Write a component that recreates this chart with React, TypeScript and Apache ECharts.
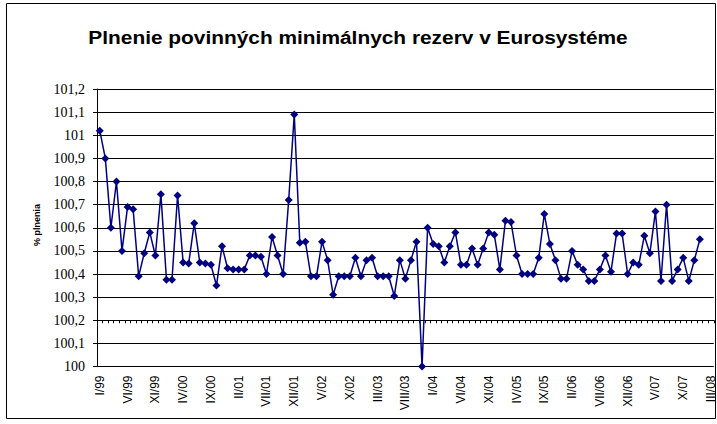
import React, { useEffect, useRef } from "react";
import * as echarts from "echarts";

const TITLE = "Plnenie povinných minimálnych rezerv v Eurosystéme";
const Y_NAME = "% plnenia";
const MONTHS = ["I", "II", "III", "IV", "V", "VI", "VII", "VIII", "IX", "X", "XI", "XII"];
const YEARS = ["99", "00", "01", "02", "03", "04", "05", "06", "07", "08"];
const LAST_LABEL = "III/08";

const categories: string[] = [];
outer: for (const y of YEARS) {
  for (const m of MONTHS) {
    const c = `${m}/${y}`;
    categories.push(c);
    if (c === LAST_LABEL) break outer;
  }
}

const values = [
  101.02, 100.9, 100.6, 100.8, 100.5, 100.69, 100.68, 100.39, 100.49, 100.58,
  100.48, 100.745, 100.375, 100.375, 100.74, 100.45, 100.445, 100.62, 100.45, 100.445,
  100.44, 100.35, 100.52, 100.425, 100.42, 100.42, 100.42, 100.48, 100.48, 100.475,
  100.4, 100.56, 100.48, 100.4, 100.72, 101.09, 100.535, 100.54, 100.39, 100.39,
  100.54, 100.46, 100.31, 100.39, 100.39, 100.39, 100.47, 100.39, 100.46, 100.47,
  100.39, 100.39, 100.39, 100.305, 100.46, 100.38, 100.46, 100.54, 100.0, 100.6,
  100.53, 100.52, 100.45, 100.52, 100.58, 100.44, 100.44, 100.51, 100.44, 100.51,
  100.58, 100.57, 100.42, 100.63, 100.625, 100.48, 100.4, 100.4, 100.4, 100.47,
  100.66, 100.53, 100.46, 100.38, 100.38, 100.5, 100.44, 100.42, 100.37, 100.37,
  100.42, 100.48, 100.41, 100.575, 100.575, 100.4, 100.45, 100.44, 100.565, 100.49,
  100.67, 100.37, 100.7, 100.37, 100.42, 100.47, 100.37, 100.46, 100.55,
];

const Y_MIN = 100;
const Y_MAX = 101.2;
const Y_STEP = 0.1;
const AXIS_CROSS = 100.2;

export default function App() {
  const ref = useRef<HTMLDivElement>(null);
  useEffect(() => {
    if (!ref.current) return;
    const chart = echarts.init(ref.current, undefined, { renderer: "svg" });
    const gridLeft = 97;
    const gridTop = 89;
    const gridW = 617.2;
    const gridH = 277.5;
    const crossFromTop = gridH - ((AXIS_CROSS - Y_MIN) / (Y_MAX - Y_MIN)) * gridH;
    chart.setOption({
      animation: false,
      backgroundColor: "#ffffff",
      grid: {
        left: gridLeft,
        top: gridTop,
        width: gridW,
        height: gridH,
        containLabel: false,
      },
      graphic: [
        {
          type: "rect",
          silent: true,
          z: -10,
          shape: { x: 6.5, y: 3.5, width: 709, height: 415 },
          style: { fill: "none", stroke: "#000", lineWidth: 1 },
        },
        {
          type: "text",
          x: 358,
          y: 38,
          scaleX: 1.16,
          style: {
            text: TITLE,
            fontSize: 18,
            fontWeight: "bold",
            fontFamily: "Arial, 'Liberation Sans', sans-serif",
            fill: "#000",
            align: "center",
            verticalAlign: "middle",
            textAlign: "center",
            textVerticalAlign: "middle",
          },
        },
        {
          type: "text",
          x: 37,
          y: 225,
          rotation: Math.PI / 2,
          style: {
            text: Y_NAME,
            fontSize: 9,
            fontWeight: "bold",
            fontFamily: "Arial, 'Liberation Sans', sans-serif",
            fill: "#000",
            align: "center",
            verticalAlign: "middle",
            textAlign: "center",
            textVerticalAlign: "middle",
          },
        },
      ],
      xAxis: [
        {
          type: "category",
          data: categories,
          position: "bottom",
          boundaryGap: true,
          axisLine: { show: false },
          axisTick: { show: false },
          splitLine: { show: false },
          axisLabel: {
            interval: 4,
            rotate: 90,
            margin: 9,
            color: "#000",
            fontSize: 12,
            fontFamily: "Arial, 'Liberation Sans', sans-serif",
          },
        },
        {
          type: "category",
          data: categories,
          position: "top",
          offset: -crossFromTop,
          boundaryGap: true,
          axisLine: { show: true, lineStyle: { color: "#000", width: 1 } },
          axisTick: { show: true, inside: true, length: 3, interval: 0, lineStyle: { color: "#000" } },
          axisLabel: { show: false },
          splitLine: { show: false },
        },
      ],
      yAxis: {
        type: "value",
        min: Y_MIN,
        max: Y_MAX,
        interval: Y_STEP,
        axisLine: { show: true, lineStyle: { color: "#000", width: 1 } },
        axisTick: { show: true, length: 4, lineStyle: { color: "#000" } },
        splitLine: { show: true, lineStyle: { color: "#000", width: 1 } },
        axisLabel: {
          margin: 12,
          color: "#000",
          fontSize: 14,
          fontFamily: "Liberation Serif",
          formatter: (v: number) => String(Math.round(v * 10) / 10).replace(".", ","),
        },
      },
      series: [
        {
          type: "line",
          xAxisIndex: 0,
          yAxisIndex: 0,
          data: values,
          symbol: "diamond",
          symbolSize: 8,
          showSymbol: true,
          showAllSymbol: true,
          lineStyle: { color: "#000080", width: 1.5 },
          itemStyle: { color: "#000080" },
        },
      ],
    });
    return () => chart.dispose();
  }, []);
  return (
    <div
      ref={ref}
      style={{ position: "fixed", left: 0, top: 0, width: 717, height: 424, background: "#fff" }}
    />
  );
}
